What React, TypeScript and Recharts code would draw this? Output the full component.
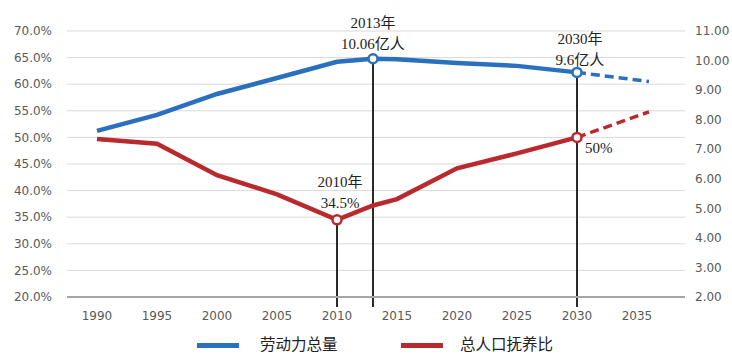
import React from "react";
import {
  CartesianGrid,
  ComposedChart,
  Line,
  ReferenceDot,
  ReferenceLine,
  XAxis,
  YAxis,
} from "recharts";

// 年份与两条序列（劳动力总量：亿人，右轴；总人口抚养比：%，左轴）
const years = [1990, 1995, 2000, 2005, 2010, 2013, 2015, 2020, 2025, 2030, 2036];
const laborForce = [7.62, 8.16, 8.87, 9.41, 9.96, 10.06, 10.04, 9.92, 9.82, 9.6, null];
const laborForceProj = [null, null, null, null, null, null, null, null, null, 9.6, 9.29];
const dependencyRatio = [49.7, 48.8, 42.9, 39.3, 34.5, 37.2, 38.4, 44.2, 47.0, 50, null];
const dependencyRatioProj = [null, null, null, null, null, null, null, null, null, 50, 54.8];

const xTicks = [1990, 1995, 2000, 2005, 2010, 2015, 2020, 2025, 2030, 2035];
const leftTicks = [20, 25, 30, 35, 40, 45, 50, 55, 60, 65, 70];
const rightTicks = [2, 3, 4, 5, 6, 7, 8, 9, 10, 11];

const BLUE = "#2b6fbf";
const RED = "#b92a2f";
const TICK = { fill: "#595959", fontSize: 12, fontFamily: "DejaVu Sans" };
const SERIF = "Liberation Serif, Noto Sans CJK SC, serif";

const data = years.map((year, i) => ({
  year,
  labor: laborForce[i],
  laborProj: laborForceProj[i],
  ratio: dependencyRatio[i],
  ratioProj: dependencyRatioProj[i],
}));

function Callout(props: any) {
  const { viewBox, lines, dx = 0, dy = 0, anchor = "middle" } = props;
  if (!viewBox) return null;
  const cx = viewBox.x + viewBox.width / 2 + dx;
  const cy = viewBox.y + viewBox.height / 2 + dy;
  return (
    <text x={cx} y={cy} textAnchor={anchor} fontSize={15} fontFamily={SERIF} fill="#222">
      {lines.map((l: string, i: number) => (
        <tspan key={i} x={cx} dy={i === 0 ? 0 : 21}>
          {l}
        </tspan>
      ))}
    </text>
  );
}

function LegendRow() {
  const item = (color: string, label: string, left: number, textLeft: number) => (
    <>
      <span
        style={{
          position: "absolute",
          left,
          top: 343,
          width: 42,
          height: 5,
          background: color,
        }}
      />
      <span
        style={{
          position: "absolute",
          left: textLeft,
          top: 335,
          fontSize: 15.5,
          lineHeight: "20px",
          fontFamily: SERIF,
          color: "#222",
          whiteSpace: "nowrap",
        }}
      >
        {label}
      </span>
    </>
  );
  return (
    <>
      {item(BLUE, "劳动力总量", 197, 260)}
      {item(RED, "总人口抚养比", 401, 460)}
    </>
  );
}

export default function App() {
  return (
    <div
      style={{
        position: "absolute",
        left: 0,
        top: 0,
        width: 732,
        height: 356,
        background: "#fff",
        overflow: "hidden",
      }}
    >
      <ComposedChart
        width={732}
        height={356}
        data={data}
        margin={{ top: 31, right: 0, bottom: 29, left: 0 }}
      >
        <CartesianGrid yAxisId="left" vertical={false} stroke="#d9d9d9" strokeWidth={1} />
        <XAxis
          dataKey="year"
          type="number"
          domain={[1987.5, 2039]}
          ticks={xTicks}
          allowDataOverflow
          height={30}
          tickLine={false}
          tickMargin={8}
          axisLine={{ stroke: "#a6a6a6", strokeWidth: 2 }}
          tick={TICK}
        />
        <YAxis
          yAxisId="left"
          domain={[20, 70]}
          ticks={leftTicks}
          width={67}
          axisLine={false}
          tickLine={false}
          tickMargin={9}
          tick={TICK}
          tickFormatter={(v: number) => `${v.toFixed(1)}%`}
        />
        <YAxis
          yAxisId="right"
          orientation="right"
          domain={[2, 11]}
          ticks={rightTicks}
          width={47}
          axisLine={false}
          tickLine={false}
          tickMargin={4}
          tick={TICK}
          tickFormatter={(v: number) => v.toFixed(2)}
        />

        {/* 关键年份竖线，延伸到横轴下方 */}
        <ReferenceLine
          yAxisId="left"
          segment={[{ x: 2010, y: 34.5 }, { x: 2010, y: 18.1 }]}
          stroke="#2a2a2a"
          strokeWidth={2}
          ifOverflow="visible"
        />
        <ReferenceLine
          yAxisId="right"
          segment={[{ x: 2013, y: 10.06 }, { x: 2013, y: 1.66 }]}
          stroke="#2a2a2a"
          strokeWidth={2}
          ifOverflow="visible"
        />
        <ReferenceLine
          yAxisId="right"
          segment={[{ x: 2030, y: 9.6 }, { x: 2030, y: 1.66 }]}
          stroke="#2a2a2a"
          strokeWidth={2}
          ifOverflow="visible"
        />

        <Line
          yAxisId="right"
          dataKey="labor"
          type="linear"
          stroke={BLUE}
          strokeWidth={4.5}
          dot={false}
          activeDot={false}
          isAnimationActive={false}
        />
        <Line
          yAxisId="right"
          dataKey="laborProj"
          type="linear"
          stroke={BLUE}
          strokeWidth={3.5}
          strokeDasharray="9 5"
          dot={false}
          activeDot={false}
          isAnimationActive={false}
        />
        <Line
          yAxisId="left"
          dataKey="ratio"
          type="linear"
          stroke={RED}
          strokeWidth={4.5}
          dot={false}
          activeDot={false}
          isAnimationActive={false}
        />
        <Line
          yAxisId="left"
          dataKey="ratioProj"
          type="linear"
          stroke={RED}
          strokeWidth={3.5}
          strokeDasharray="9 5"
          dot={false}
          activeDot={false}
          isAnimationActive={false}
        />

        <ReferenceDot
          yAxisId="right"
          x={2013}
          y={10.06}
          r={4.5}
          fill="#fff"
          stroke={BLUE}
          strokeWidth={2.5}
          label={<Callout lines={["2013年", "10.06亿人"]} dy={-31} />}
        />
        <ReferenceDot
          yAxisId="right"
          x={2030}
          y={9.6}
          r={4.5}
          fill="#fff"
          stroke={BLUE}
          strokeWidth={2.5}
          label={<Callout lines={["2030年", "9.6亿人"]} dx={3} dy={-28} />}
        />
        <ReferenceDot
          yAxisId="left"
          x={2010}
          y={34.5}
          r={4.5}
          fill="#fff"
          stroke={RED}
          strokeWidth={2.5}
          label={<Callout lines={["2010年", "34.5%"]} dx={3} dy={-33} />}
        />
        <ReferenceDot
          yAxisId="left"
          x={2030}
          y={50}
          r={4.5}
          fill="#fff"
          stroke={RED}
          strokeWidth={2.5}
          label={<Callout lines={["50%"]} dx={8} dy={16} anchor="start" />}
        />
      </ComposedChart>
      <LegendRow />
    </div>
  );
}
